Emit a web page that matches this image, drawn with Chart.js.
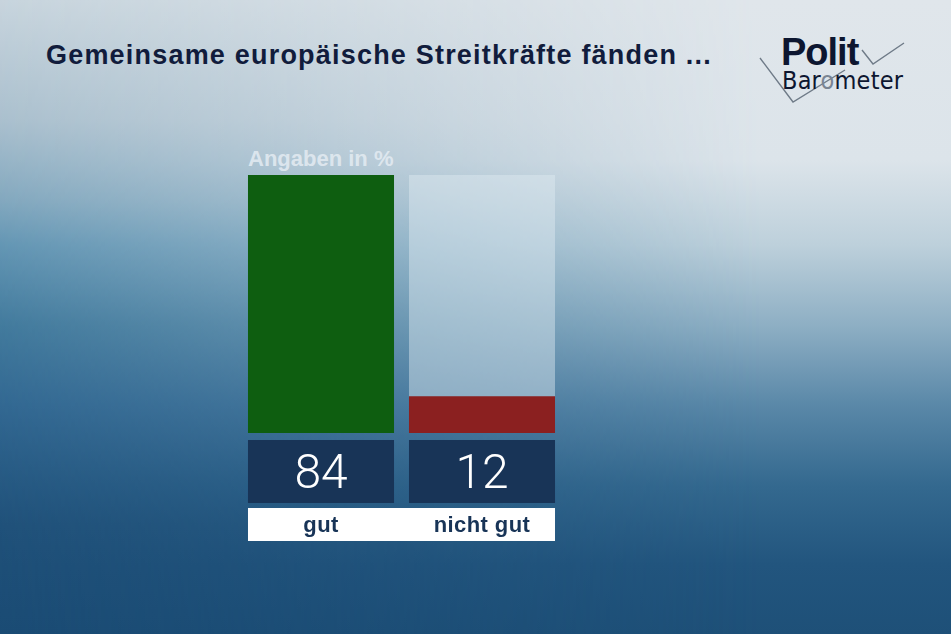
<!DOCTYPE html>
<html>
<head>
<meta charset="utf-8">
<script src="https://cdn.jsdelivr.net/npm/chart.js@4.4.1/dist/chart.umd.min.js"></script>
<style>
  html,body{margin:0;padding:0;width:951px;height:634px;overflow:hidden}
  body{position:relative;font-family:"Liberation Sans",Arial,sans-serif}
  .bg{position:absolute;left:0;top:0;width:951px;height:634px}
  #bgL{background:linear-gradient(to bottom,#c5d3dc 0px,#a5bccb 120px,#7ba3bb 200px,#5a90b0 245px,#3a7599 325px,#2e6590 405px,#1f5079 525px,#1a4b74 634px)}
  #bgR{background:linear-gradient(to bottom,#e0e6eb 0px,#dce4ea 160px,#bdd0db 245px,#8eafc4 325px,#5a88a8 405px,#34698f 485px,#22557e 565px,#1e5078 634px);
       -webkit-mask-image:linear-gradient(to right,rgba(0,0,0,0.1) 0%,rgba(0,0,0,1) 80%);mask-image:linear-gradient(to right,rgba(0,0,0,0.1) 0%,rgba(0,0,0,1) 80%)}
  #title{position:absolute;left:46px;top:40px;font-size:27px;font-weight:bold;color:#111c3c;letter-spacing:1.2px;white-space:nowrap}
  #logo{position:absolute;left:756px;top:30px;width:160px;height:80px}
  #polit{position:absolute;left:781px;top:31px;font-size:38px;font-weight:bold;color:#0d1630;letter-spacing:-1px}
  #baro{position:absolute;left:782px;top:66px;font-family:"DejaVu Sans Condensed","DejaVu Sans",sans-serif;font-stretch:condensed;font-size:25px;color:#0d1630;letter-spacing:0.2px}
  #baro span{color:#7a8593}
  #unit{position:absolute;left:248px;top:146px;font-size:22px;font-weight:bold;color:rgba(226,234,241,0.9)}
  #wrap{position:absolute;left:0;top:0;width:951px;height:634px}
</style>
</head>
<body>
<div class="bg" id="bgL"></div>
<div class="bg" id="bgR"></div>
<svg id="logo" viewBox="756 30 160 80" width="160" height="80">
  <polyline points="760,58 793,102 845,70" fill="none" stroke="#6f7b88" stroke-width="1.4"/>
  <polyline points="862,50 873,64 904,43" fill="none" stroke="#6f7b88" stroke-width="1.4"/>
</svg>
<div id="polit">Polit</div>
<div id="baro">Bar<span>o</span>meter</div>
<div id="title">Gemeinsame europäische Streitkräfte fänden ...</div>
<div id="unit">Angaben in %</div>
<div id="wrap"><canvas id="c" width="951" height="634"></canvas></div>
<script>
const categories = ['gut', 'nicht gut'];
const values = [84, 12];
const barColors = ['#0e5e10', '#8b2020'];
const scaleMax = Math.max(...values);
const trackValues = categories.map(() => scaleMax);

// value boxes + label strip underneath each bar
const footer = {
  id: 'footer',
  afterDraw(chart) {
    const ctx = chart.ctx;
    const meta = chart.getDatasetMeta(1);
    const area = chart.chartArea;
    const first = meta.data[0], last = meta.data[meta.data.length - 1];
    const stripL = first.x - first.width / 2, stripR = last.x + last.width / 2;
    ctx.save();
    ctx.fillStyle = '#ffffff';
    ctx.fillRect(stripL, area.bottom + 75, stripR - stripL, 33);
    meta.data.forEach((bar, i) => {
      const l = bar.x - bar.width / 2;
      ctx.fillStyle = '#183457';
      ctx.fillRect(l, area.bottom + 7, bar.width, 63);
      ctx.fillStyle = '#ffffff';
      ctx.font = '300 48px Roboto, "Liberation Sans", sans-serif';
      ctx.textAlign = 'center';
      ctx.textBaseline = 'alphabetic';
      ctx.fillText(String(values[i]), bar.x, area.bottom + 55);
      ctx.fillStyle = '#183457';
      ctx.font = 'bold 22px "Liberation Sans", Arial, sans-serif';
      ctx.letterSpacing = '0.4px';
      ctx.fillText(categories[i], bar.x, area.bottom + 99);
      ctx.letterSpacing = '0px';
    });
    ctx.restore();
  }
};

new Chart(document.getElementById('c'), {
  type: 'bar',
  data: {
    labels: categories,
    datasets: [
      {label: 'track', data: trackValues, backgroundColor: 'rgba(225,235,242,0.45)', order: 2, grouped: false},
      {label: 'Angaben', data: values, backgroundColor: barColors, order: 1, grouped: false}
    ]
  },
  options: {
    responsive: false,
    animation: false,
    layout: {padding: {left: 240.5, right: 388.5, top: 175, bottom: 201}},
    datasets: {bar: {barPercentage: 0.907, categoryPercentage: 1}},
    plugins: {legend: {display: false}, tooltip: {enabled: false}},
    scales: {
      x: {display: false},
      y: {display: false, min: 0, max: scaleMax}
    }
  },
  plugins: [footer]
});
</script>
</body>
</html>
